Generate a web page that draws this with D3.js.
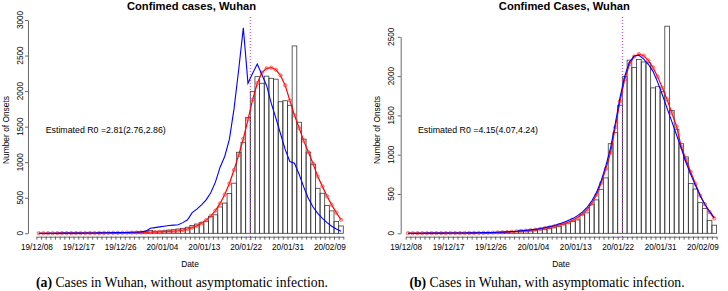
<!DOCTYPE html>
<html><head><meta charset="utf-8">
<script src="https://cdn.jsdelivr.net/npm/d3@7"></script>
<style>
body{margin:0;background:#fff;}
svg{display:block;}
text{font-family:"Liberation Sans",Arial,sans-serif;fill:#000;}
.cap{font-family:"Liberation Serif","Times New Roman",serif;}
</style></head><body>
<svg id="c" width="728" height="291"></svg>
<script>
// ---------- data ----------
const startDate = "19/12/08";             // first bar (day 0)
const tickLabels = ["19/12/08","19/12/17","19/12/26","20/01/04","20/01/13","20/01/22","20/01/31","20/02/09"];
const lockdownDate = "20/01/23";
// daily confirmed onsets, Dec 8 2019 .. Feb 11 2020
const cases = [0,0,1,1,2,2,3,3,4,4,5,6,6,7,8,9,
  10,11,12,13,15,17,19,22,
  40,28,30,35,45,50,60,70,85,110,130,150,170,235,260,370,425,560,
  705,1140,1280,1630,1993,2203,2110,2210,2180,2168,1850,1865,1800,2635,1562,1325,1140,972,633,563,390,315,165,103];
// panel (a): fitted model (red) and model without asymptomatic infection (blue)
const fitA = [1,1,1,1,2,2,2,2,3,3,3,4,4,5,5,6,6,7,8,9,10,
  11,12,14,15,17,20,23,26,30,36,
  45,60,80,105,140,185,245,320,420,545,700,890,1100,1330,1600,1880,2110,2260,2320,2330,2300,2220,2080,1870,1660,1480,1300,1140,980,800,660,520,400,290,190];
const blueA = [0,0,1,1,1,2,2,2,3,3,4,4,5,6,7,8,9,10,11,
  12,14,16,20,30,
  70,80,90,100,110,115,120,150,190,290,340,400,470,570,720,930,1080,1320,1750,2300,2890,
  2110,2250,2380,2230,2080,1830,1620,1400,1180,1010,985,830,650,490,370,280,210,150,100,60,30];
// panel (b): with asymptomatic infection
const fitB = [1,1,1,1,1,2,2,2,2,3,3,3,4,4,5,5,6,8,9,11,13,
  16,19,23,28,33,39,46,54,64,75,88,104,120,140,168,200,245,300,380,490,
  640,820,1030,1350,1680,1960,2150,2250,2280,2260,2200,2110,1990,1850,1700,1530,1360,1100,940,780,630,480,370,270,190];
const blueB = [1,1,1,1,2,2,2,2,3,3,3,4,4,5,6,7,8,9,11,13,15,
  18,22,26,31,37,44,52,61,72,85,100,118,138,162,190,225,270,330,410,520,
  670,860,1090,1400,1730,2000,2180,2255,2265,2220,2150,2060,1920,1760,1590,1420,1250,1080,900,750,610,480,370,280,200];
const yTicksA = [0,500,1000,1500,2000,2500,3000];
const yTicksB = [0,500,1000,1500,2000,2500];
const titles = ["Confimed cases, Wuhan","Confimed Cases, Wuhan"];
const r0Text = ["Estimated R0 =2.81(2.76,2.86)","Estimated R0 =4.15(4.07,4.24)"];
const captions = [["(a)"," Cases in Wuhan, without asymptomatic infection."],["(b)"," Cases in Wuhan, with asymptomatic infection."]];

// ---------- drawing ----------
const parse = d3.utcParse("%y/%m/%d");
const fmt = d3.utcFormat("%y/%m/%d");
const t0 = parse(startDate);
const dates = d3.utcDay.range(t0, d3.utcDay.offset(t0, cases.length));
const svg = d3.select("#c");

const panels = [
  {x0:36.4, x1:343.3, yAxisX:28, yTop:20, yMax:3000, ticks:yTicksA, fit:fitA, blue:blueA, title:titles[0], r0:r0Text[0], cap:captions[0], tx:191.5, labX:6, tickLabX:20, r0x:45.7, capX:182, dateX:190},
  {x0:405.7, x1:716.6, yAxisX:400.7, yTop:36.8, yMax:2500, ticks:yTicksB, fit:fitB, blue:blueB, title:titles[1], r0:r0Text[1], cap:captions[1], tx:564.3, labX:377, tickLabX:390.7, r0x:418, capX:547, dateX:561}
];
const yBase = 233.3, xAxisY = 236.7;

panels.forEach((p, pi) => {
  const g = svg.append("g");
  const x = d3.scaleUtc().domain([t0, d3.utcDay.offset(t0, cases.length)]).range([p.x0, p.x1]);
  const y = d3.scaleLinear().domain([0, p.yMax]).range([yBase, p.yTop]);

  // bars
  g.selectAll("rect.bar").data(cases).join("rect")
    .attr("x", (d,i) => x(dates[i]))
    .attr("width", (d,i) => x(d3.utcDay.offset(dates[i],1)) - x(dates[i]))
    .attr("y", d => y(d))
    .attr("height", d => yBase - y(d))
    .attr("fill", "none").attr("stroke", "#3a3a3a").attr("stroke-width", 0.8);

  const mid = i => x(d3.utcHour.offset(dates[i], 12));
  const line = d3.line().x((d,i) => mid(i)).y(d => y(d));

  // lockdown line
  const xl = x(parse(lockdownDate));
  g.append("line").attr("x1", xl).attr("x2", xl).attr("y1", 17).attr("y2", 240)
    .attr("stroke", "#c23cf5").attr("stroke-width", 1).attr("stroke-dasharray", "1,2");

  // red fitted line with markers
  g.append("path").datum(p.fit).attr("d", line).attr("fill","none").attr("stroke","#ff0000").attr("stroke-width",1.2);
  g.selectAll("circle").data(p.fit).join("circle")
    .attr("cx", (d,i) => mid(i)).attr("cy", d => y(d)).attr("r", 1.7)
    .attr("fill", "rgba(255,90,90,0.35)").attr("stroke", "#ff3030").attr("stroke-width", 0.6);
  // blue model
  g.append("path").datum(p.blue).attr("d", line).attr("fill","none").attr("stroke","#0000ff").attr("stroke-width",1.1);

  // y axis
  const ya = g.append("g").attr("transform", `translate(${p.yAxisX},0)`)
    .call(d3.axisLeft(y).tickValues(p.ticks).tickSize(3).tickSizeOuter(0).tickFormat(""));
  ya.selectAll("path,line").attr("stroke", "#444").attr("stroke-width", 0.8);
  g.selectAll("text.yt").data(p.ticks).join("text").attr("class","yt")
    .attr("transform", d => `translate(${p.tickLabX},${y(d)}) rotate(-90)`)
    .attr("text-anchor","middle").attr("dy","0.35em").attr("font-size","8.2px").attr("fill","#222").text(d => d);

  // x axis
  const allDays = d3.utcDay.range(t0, d3.utcDay.offset(t0, cases.length + 1));
  const xa = g.append("g").attr("transform", `translate(0,${xAxisY})`)
    .call(d3.axisBottom(x).tickValues(allDays).tickSize(3).tickSizeOuter(0).tickPadding(4.5)
      .tickFormat(d => tickLabels.includes(fmt(d)) ? fmt(d) : ""));
  xa.selectAll("path,line").attr("stroke", "#444").attr("stroke-width", 0.8);
  xa.selectAll("text").attr("font-size","8.2px").attr("fill","#222").attr("font-family","Liberation Sans, Arial, sans-serif");

  // titles & labels
  g.append("text").attr("x", p.tx).attr("y", 10).attr("text-anchor","middle")
    .attr("font-weight","bold").attr("font-size","11.2px").text(p.title);
  g.append("text").attr("transform", `translate(${p.labX + 3},130) rotate(-90)`).attr("text-anchor","middle")
    .attr("font-size","8.4px").text("Number of Onsets");
  g.append("text").attr("x", p.dateX).attr("y", 267).attr("text-anchor","middle").attr("font-size","8.4px").text("Date");
  g.append("text").attr("x", p.r0x).attr("y", 133).attr("font-size","8.8px").text(p.r0);
  const c = g.append("text").attr("class","cap").attr("x", p.capX).attr("y", 287).attr("text-anchor","middle").attr("font-size","13.7px");
  c.append("tspan").attr("font-weight","bold").text(p.cap[0]);
  c.append("tspan").text(p.cap[1]);
});
</script></body></html>
